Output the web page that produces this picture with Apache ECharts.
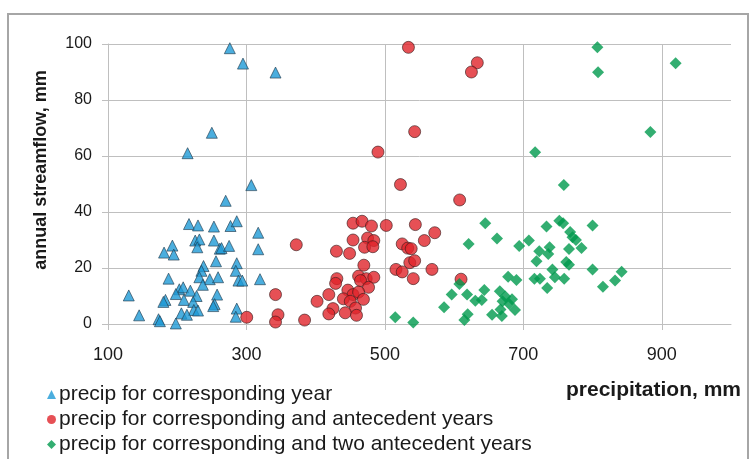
<!DOCTYPE html>
<html>
<head>
<meta charset="utf-8">
<script src="https://cdn.jsdelivr.net/npm/echarts@6/dist/echarts.min.js"></script>
<style>
  html, body { margin: 0; padding: 0; background: #fff; }
  #chart { width: 751px; height: 459px; }
</style>
</head>
<body>
<div id="chart"></div>
<script>
// precip for corresponding year: [precipitation, streamflow]
const yearOnly = [
  [276, 98.5], [295, 93], [342, 89.8], [250, 68.3], [215, 61],
  [307, 49.6], [270, 44], [217, 35.7], [230, 35.2], [253, 34.8], [277, 35], [286, 36.7],
  [317, 32.6], [193, 28], [181, 25.5], [195, 24.8], [226, 29.8], [232, 30.2], [229, 27.4],
  [253, 29.8], [261.5, 26.9], [264, 27.1], [275, 27.9], [317, 26.7], [256, 22.4], [286, 21.7],
  [238, 20.7], [235, 19], [232, 16.7], [187.5, 16.2], [247, 16], [259, 16.7], [284.6, 19],
  [288.5, 15.5], [294, 15.5], [319.6, 16], [237, 14], [203, 12.4], [208.6, 13.1], [219, 11.9],
  [198, 10.7], [228, 10], [257.6, 10.5], [130, 10.2], [183, 8.6], [180, 7.9], [209.6, 8.6],
  [223, 7.9], [254, 7.1], [252, 6.4], [286, 5.5], [224, 5], [230, 4.8], [206, 3.8], [214, 3.3],
  [145, 3.1], [284.6, 2.6], [173, 1.7], [175, 1], [198, 0.2]
];

// precip for corresponding and antecedent years
const withAntecedent = [
  [534, 98.8], [633.5, 93.3], [625, 90], [543, 68.7], [490, 61.4], [522.5, 49.8], [608, 44.3],
  [454, 36], [467, 36.7], [480.6, 35], [502, 35.2], [544, 35.5], [572, 32.6], [372, 28.3],
  [454, 30], [475, 30.7], [484, 29.8], [470.6, 27.4], [482.6, 27.6], [430, 26], [449, 25.2],
  [525, 28.6], [533, 27.1], [538, 26.9], [557, 29.8], [469.6, 21], [536, 21.9], [543, 22.6],
  [516, 19.5], [525, 18.6], [568, 19.5], [541, 16.2], [462, 17.1], [473, 16.2], [484, 16.7],
  [430.6, 16.2], [428.8, 14.5], [464.8, 15.5], [476.4, 13.1], [446.5, 12.1], [419, 10.5],
  [454, 10.5], [462, 11.4], [469, 8.8], [402, 8.1], [440, 9], [450, 8.1], [457.6, 5.7],
  [425, 5.5], [419, 3.6], [442.7, 4], [459, 3.1], [384, 1.4], [342, 10.5], [345.6, 3.3],
  [342, 0.7], [300.4, 2.4], [610, 16]
];

// precip for corresponding and two antecedent years
const withTwoAntecedent = [
  [807, 98.8], [808, 89.9], [920, 93.1], [883.5, 68.6], [717, 61.3], [758.5, 49.6],
  [645, 36], [733.5, 34.8], [752, 36.9], [757.5, 36], [800, 35.2], [621, 28.6], [662, 30.5],
  [694, 27.9], [708, 29.8], [767.6, 32.9], [771, 31], [776, 30], [766, 26.8], [784, 27.1],
  [723, 26], [738, 27.4], [736, 25], [719, 22.4], [762, 22.1], [766, 21.2], [742, 19.5],
  [800, 19.5], [842, 18.7], [832.5, 15.5], [815, 13.3], [678, 16.9], [690, 15.7], [716, 16.2],
  [724, 16.2], [745.6, 16.7], [759, 16.2], [734.5, 12.9], [643.6, 12.1], [607.6, 14.3],
  [596.5, 10.5], [618.7, 10.5], [630.6, 8.3], [585.5, 6], [619.6, 3.5], [614.8, 1.4],
  [515, 2.4], [541, 0.5], [640, 8.6], [666, 11.7], [674, 9.8], [683.6, 8.8], [670, 8.1],
  [679.7, 7.1], [688, 5], [667, 5.2], [654.8, 3.3], [669, 2.9]
];

const seriesNames = [
  'precip for corresponding year',
  'precip for corresponding and antecedent years',
  'precip for corresponding and two antecedent years'
];

const chart = echarts.init(document.getElementById('chart'));
const gridColor = '#bfbfbf';
const textColor = '#1a1a1a';

chart.setOption({
  animation: false,
  textStyle: { fontFamily: 'Liberation Sans, Arial, sans-serif' },
  graphic: [{
    type: 'rect',
    shape: { x: 8, y: 14, width: 740, height: 470 },
    style: { fill: 'none', stroke: '#a6a6a6', lineWidth: 2 },
    silent: true
  }],
  grid: { left: 108, right: 20, top: 44, bottom: 135 },
  legend: {
    orient: 'vertical',
    left: 42,
    top: 379,
    height: 120,
    itemGap: 4,
    itemWidth: 9,
    itemHeight: 9,
    textStyle: { fontSize: 21, lineHeight: 20, color: textColor, padding: [0, 0, 0, -2] },
    data: [
      { name: seriesNames[0], icon: 'triangle', itemStyle: { color: '#1e9ad6', borderWidth: 0 } },
      { name: seriesNames[1], icon: 'circle', itemStyle: { color: '#e0242b', borderWidth: 0 } },
      { name: seriesNames[2], icon: 'diamond', itemStyle: { color: '#009a4e', borderWidth: 0 } }
    ]
  },
  xAxis: {
    type: 'value',
    min: 100,
    max: 1000,
    interval: 200,
    name: 'precipitation, mm',
    nameLocation: 'end',
    nameGap: 10,
    nameTextStyle: {
      fontSize: 21, fontWeight: 'bold', color: textColor,
      align: 'right', verticalAlign: 'top', padding: [56, 0, 0, 0]
    },
    axisLine: { show: true, lineStyle: { color: gridColor } },
    axisTick: { show: true, length: 6, lineStyle: { color: gridColor } },
    axisLabel: { fontSize: 18, color: textColor, margin: 22, showMaxLabel: false },
    splitLine: { show: true, showMaxLine: false, lineStyle: { color: gridColor } }
  },
  yAxis: {
    type: 'value',
    min: 0,
    max: 100,
    interval: 20,
    name: 'annual streamflow, mm',
    nameLocation: 'middle',
    nameGap: 58,
    nameTextStyle: { fontSize: 18, fontWeight: 'bold', color: textColor, padding: [0, 0, 0, 28] },
    axisLine: { show: true, lineStyle: { color: gridColor } },
    axisTick: { show: true, length: 6, lineStyle: { color: gridColor } },
    axisLabel: { fontSize: 16, color: textColor, margin: 16 },
    splitLine: { show: true, lineStyle: { color: gridColor } }
  },
  series: [
    {
      name: seriesNames[0],
      type: 'scatter',
      symbol: 'triangle',
      symbolSize: 11,
      itemStyle: { color: '#1e9ad6', borderColor: '#1f3a4d', borderWidth: 0.8 },
      data: yearOnly
    },
    {
      name: seriesNames[1],
      type: 'scatter',
      symbol: 'circle',
      symbolSize: 12,
      itemStyle: { color: '#e0242b', borderColor: '#3a1a1a', borderWidth: 0.8 },
      data: withAntecedent
    },
    {
      name: seriesNames[2],
      type: 'scatter',
      symbol: 'diamond',
      symbolSize: 12,
      itemStyle: { color: '#009a4e' },
      data: withTwoAntecedent
    }
  ]
});
</script>
</body>
</html>
